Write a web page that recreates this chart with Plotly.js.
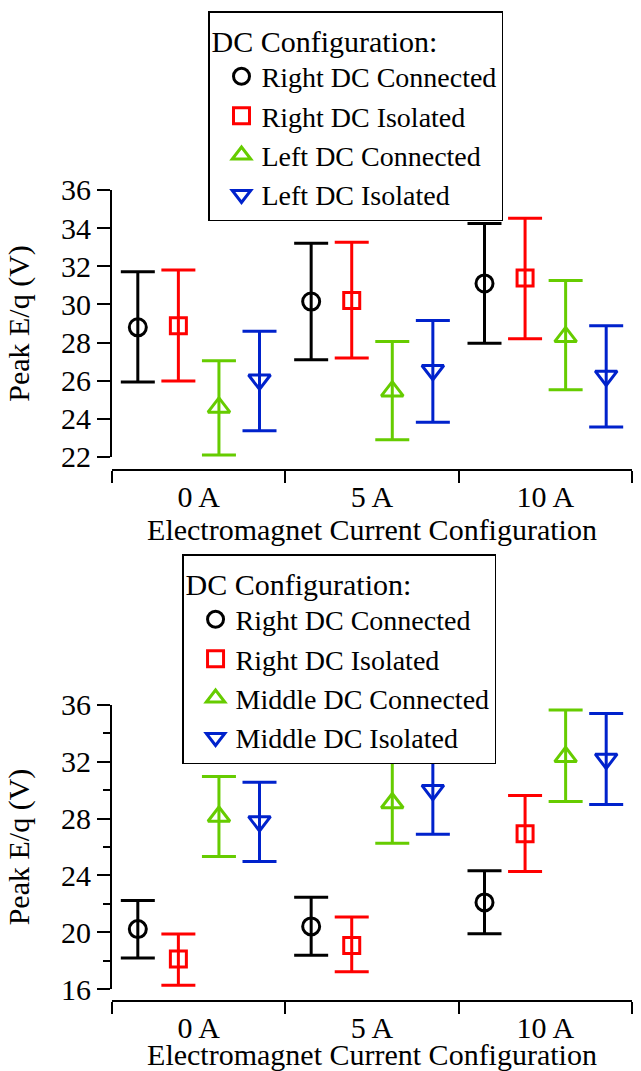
<!DOCTYPE html>
<html>
<head>
<meta charset="utf-8">
<script src="https://cdn.plot.ly/plotly-3.0.1.min.js"></script>
</head>
<body style="margin:0">
<div id="chart"></div>
<script>
// ---- categories ----
const categories = ['0 A', '5 A', '10 A'];

// ---- top panel (Right / Left DC) ----
const topRightConnY = [28.8, 30.15, 31.1];
const topRightConnHi = [31.72, 33.21, 34.25];
const topRightConnLo = [25.93, 27.1, 27.97];

const topRightIsoY = [28.88, 30.2, 31.38];
const topRightIsoHi = [31.81, 33.26, 34.52];
const topRightIsoLo = [25.98, 27.19, 28.2];

const topLeftConnY = [24.6, 25.45, 28.3];
const topLeftConnHi = [27.05, 28.06, 31.25];
const topLeftConnLo = [22.11, 22.91, 25.53];

const topLeftIsoY = [26.05, 26.55, 26.25];
const topLeftIsoHi = [28.6, 29.16, 28.88];
const topLeftIsoLo = [23.38, 23.82, 23.57];

// ---- bottom panel (Right / Middle DC) ----
const botRightConnY = [20.22, 20.41, 22.1];
const botRightConnHi = [22.24, 22.47, 24.33];
const botRightConnLo = [18.18, 18.37, 19.89];

const botRightIsoY = [18.11, 19.07, 26.93];
const botRightIsoHi = [19.87, 21.07, 29.63];
const botRightIsoLo = [16.26, 17.22, 24.28];

const botMidConnY = [28.15, 29.1, 32.35];
const botMidConnHi = [30.96, 32.09, 35.65];
const botMidConnLo = [25.33, 26.27, 29.2];

const botMidIsoY = [27.8, 30.0, 32.2];
const botMidIsoHi = [30.56, 32.89, 35.41];
const botMidIsoLo = [24.98, 26.9, 29.0];

// ---- labels ----
const topNames = ['Right DC Connected', 'Right DC Isolated', 'Left DC Connected', 'Left DC Isolated'];
const botNames = ['Right DC Connected', 'Right DC Isolated', 'Middle DC Connected', 'Middle DC Isolated'];
const legendTitle = 'DC Configuration:';
const xTitle = 'Electromagnet Current Configuration';
const yTitle = 'Peak E/q (V)';

const colors = ['#000000', '#ff0000', '#66cc00', '#0022cc'];
const symbols = ['circle-open', 'square-open', 'triangle-up-open', 'triangle-down-open'];
const sizes = [17, 16, 19, 19];

const SERIF = 'Times New Roman';

function mk(name, y, hi, lo, i, xa, ya, lg) {
  return {
    type: 'scatter', mode: 'markers', name: name,
    x: categories, y: y, xaxis: xa, yaxis: ya, legend: lg,
    offsetgroup: String(i),
    cliponaxis: false,
    marker: {symbol: symbols[i], size: sizes[i], color: colors[i], line: {width: 3, color: colors[i]}},
    error_y: {
      type: 'data', symmetric: false,
      array: hi.map((v, k) => v - y[k]),
      arrayminus: lo.map((v, k) => y[k] - v),
      color: colors[i], thickness: 3, width: 17
    }
  };
}

const data = [
  mk(topNames[0], topRightConnY, topRightConnHi, topRightConnLo, 0, 'x', 'y', 'legend'),
  mk(topNames[1], topRightIsoY, topRightIsoHi, topRightIsoLo, 1, 'x', 'y', 'legend'),
  mk(topNames[2], topLeftConnY, topLeftConnHi, topLeftConnLo, 2, 'x', 'y', 'legend'),
  mk(topNames[3], topLeftIsoY, topLeftIsoHi, topLeftIsoLo, 3, 'x', 'y', 'legend'),
  mk(botNames[0], botRightConnY, botRightConnHi, botRightConnLo, 0, 'x2', 'y2', 'legend2'),
  mk(botNames[1], botRightIsoY, botRightIsoHi, botRightIsoLo, 1, 'x2', 'y2', 'legend2'),
  mk(botNames[2], botMidConnY, botMidConnHi, botMidConnLo, 2, 'x2', 'y2', 'legend2'),
  mk(botNames[3], botMidIsoY, botMidIsoHi, botMidIsoLo, 3, 'x2', 'y2', 'legend2')
];

function xax(pos) {
  return {
    type: 'category', domain: [0.1747, 0.986], anchor: 'free', position: pos,
    showline: true, linewidth: 2, linecolor: '#000',
    tickson: 'boundaries', ticks: 'outside', ticklen: 12, tickwidth: 2, tickcolor: '#000',
    showgrid: false, zeroline: false, automargin: false,
    tickfont: {family: SERIF, size: 30, color: '#000'},
    title: {text: xTitle, font: {family: SERIF, size: 30, color: '#000'}, standoff: 0}
  };
}
function yax(dom, rng, dt, anchor, minor) {
  const a = {
    domain: dom, range: rng, dtick: dt, tick0: 0, anchor: anchor,
    showline: true, linewidth: 2, linecolor: '#000',
    ticks: 'outside', ticklen: 13, tickwidth: 2, tickcolor: '#000',
    showgrid: false, zeroline: false, automargin: false,
    tickfont: {family: SERIF, size: 30, color: '#000'},
    title: {text: yTitle, font: {family: SERIF, size: 30, color: '#000'}, standoff: 22}
  };
  if (minor) a.minor = {dtick: minor, ticks: 'outside', ticklen: 7, tickwidth: 2, tickcolor: '#000', showgrid: false};
  return a;
}
function mkLegend(x, y) {
  return {
    x: x, y: y, xanchor: 'left', yanchor: 'top',
    bgcolor: '#fff', bordercolor: '#000', borderwidth: 1.5,
    font: {family: SERIF, size: 28, color: '#000'},
    title: {text: legendTitle, font: {family: SERIF, size: 30, color: '#000'}},
    indentation: 12
  };
}

const layout = {
  width: 641, height: 1071,
  margin: {l: 0, r: 0, t: 0, b: 0},
  paper_bgcolor: '#fff', plot_bgcolor: '#fff',
  font: {family: SERIF, size: 30, color: '#000'},
  scattermode: 'group', scattergap: 0.064,
  showlegend: true,
  xaxis: xax(0.5612),
  yaxis: yax([0.5733, 0.8226], [22, 36], 2, 'x', null),
  xaxis2: xax(0.06536),
  yaxis2: yax([0.07656, 0.34174], [16, 36], 4, 'x2', 2),
  legend: mkLegend(0.3245, 0.9897),
  legend2: mkLegend(0.284, 0.4827)
};

Plotly.newPlot('chart', data, layout, {staticPlot: true});
</script>
</body>
</html>
